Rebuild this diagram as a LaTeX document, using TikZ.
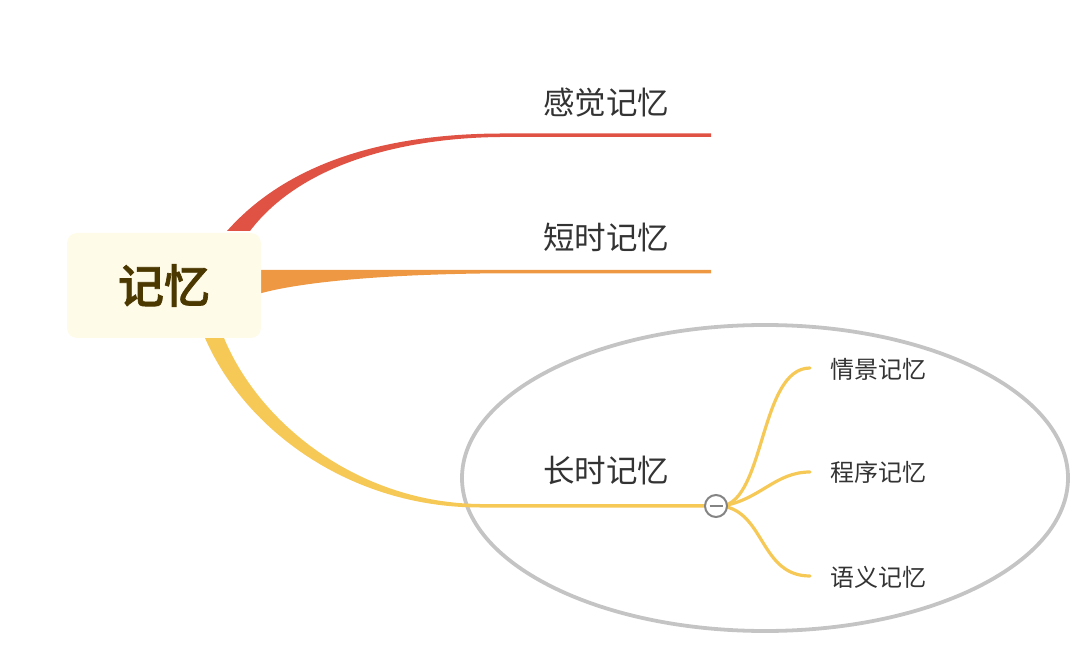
\documentclass[tikz,border=0pt]{standalone}
\usepackage{fontspec}
\setmainfont{Noto Sans CJK SC}
\newfontfamily\cjk{Noto Sans CJK SC}
\newfontfamily\cjkmed{Noto Sans CJK SC}[UprightFont={* Medium}, FakeBold=1.5]
\definecolor{redb}{HTML}{E05244}
\definecolor{orangeb}{HTML}{EE9844}
\definecolor{yellowb}{HTML}{F6C957}
\definecolor{boxfill}{HTML}{FFFBE9}
\definecolor{centertext}{HTML}{4A3800}
\definecolor{labeltext}{HTML}{333333}
\definecolor{ellgray}{HTML}{C4C4C4}
\definecolor{circgray}{HTML}{848484}
\tikzset{
  mainlabel/.style={font=\cjk\fontsize{31.5}{33}\selectfont, text=labeltext, inner sep=0pt},
  sublabel/.style={font=\cjk\fontsize{24}{26}\selectfont, text=labeltext, inner sep=0pt, anchor=west},
  subbranch/.style={draw=yellowb, line width=3.2pt, line cap=round},
}
\begin{document}
\begin{tikzpicture}[x=1pt,y=-1pt]
\useasboundingbox (0,0) rectangle (1080,655);
% ellipse
\draw[ellgray, line width=3.8pt] (765,478) ellipse [x radius=303, y radius=153];
% red branch
\fill[redb] (227,231) .. controls (290,160) and (390,134) .. (500,133.5) -- (711,133.5) -- (711,137) -- (500,137) .. controls (400,138) and (300,165) .. (250,231) -- cycle;
% orange branch
\fill[orangeb] (258,270) -- (711,270) -- (711,273.5) -- (480,273.5) .. controls (380,275) and (300,282) .. (258,294) -- cycle;
% yellow branch
\fill[yellowb] (205,338) .. controls (245,430) and (350,507.5) .. (480,507.5) -- (716,507.5) -- (716,504) -- (480,504) .. controls (360,503) and (260,425) .. (224,338) -- cycle;
% central node
\node[fill=boxfill, rounded corners=10pt, minimum width=194pt, minimum height=105pt, inner sep=0pt,
  font=\cjkmed\fontsize{46}{48}\selectfont, text=centertext] (center) at (164,285.5) {记忆};
% labels
\node[mainlabel] (sensory) at (606,103) {感觉记忆};
\node[mainlabel] (short) at (606,238) {短时记忆};
\node[mainlabel] (long) at (606,471) {长时记忆};
% sub-branches
\coordinate (hub) at (722,506);
\coordinate (e1) at (810,368);
\coordinate (e2) at (810,472);
\coordinate (e3) at (810,576);
\draw[subbranch] (hub) .. controls (765,500) and (760,368) .. (e1);
\draw[subbranch] (hub) .. controls (760,500) and (775,472) .. (e2);
\draw[subbranch] (hub) .. controls (765,512) and (760,576) .. (e3);
\node[sublabel] (episodic) at (830,369) {情景记忆};
\node[sublabel] (procedural) at (830,472) {程序记忆};
\node[sublabel] (semantic) at (830,577) {语义记忆};
% collapse circle
\node[circle, draw=circgray, fill=white, line width=2pt, minimum size=22pt, inner sep=0pt] (toggle) at (716,506) {};
\draw[circgray, line width=2pt] ([xshift=-6.5pt]toggle.center) -- ([xshift=6.5pt]toggle.center);
\end{tikzpicture}
\end{document}
